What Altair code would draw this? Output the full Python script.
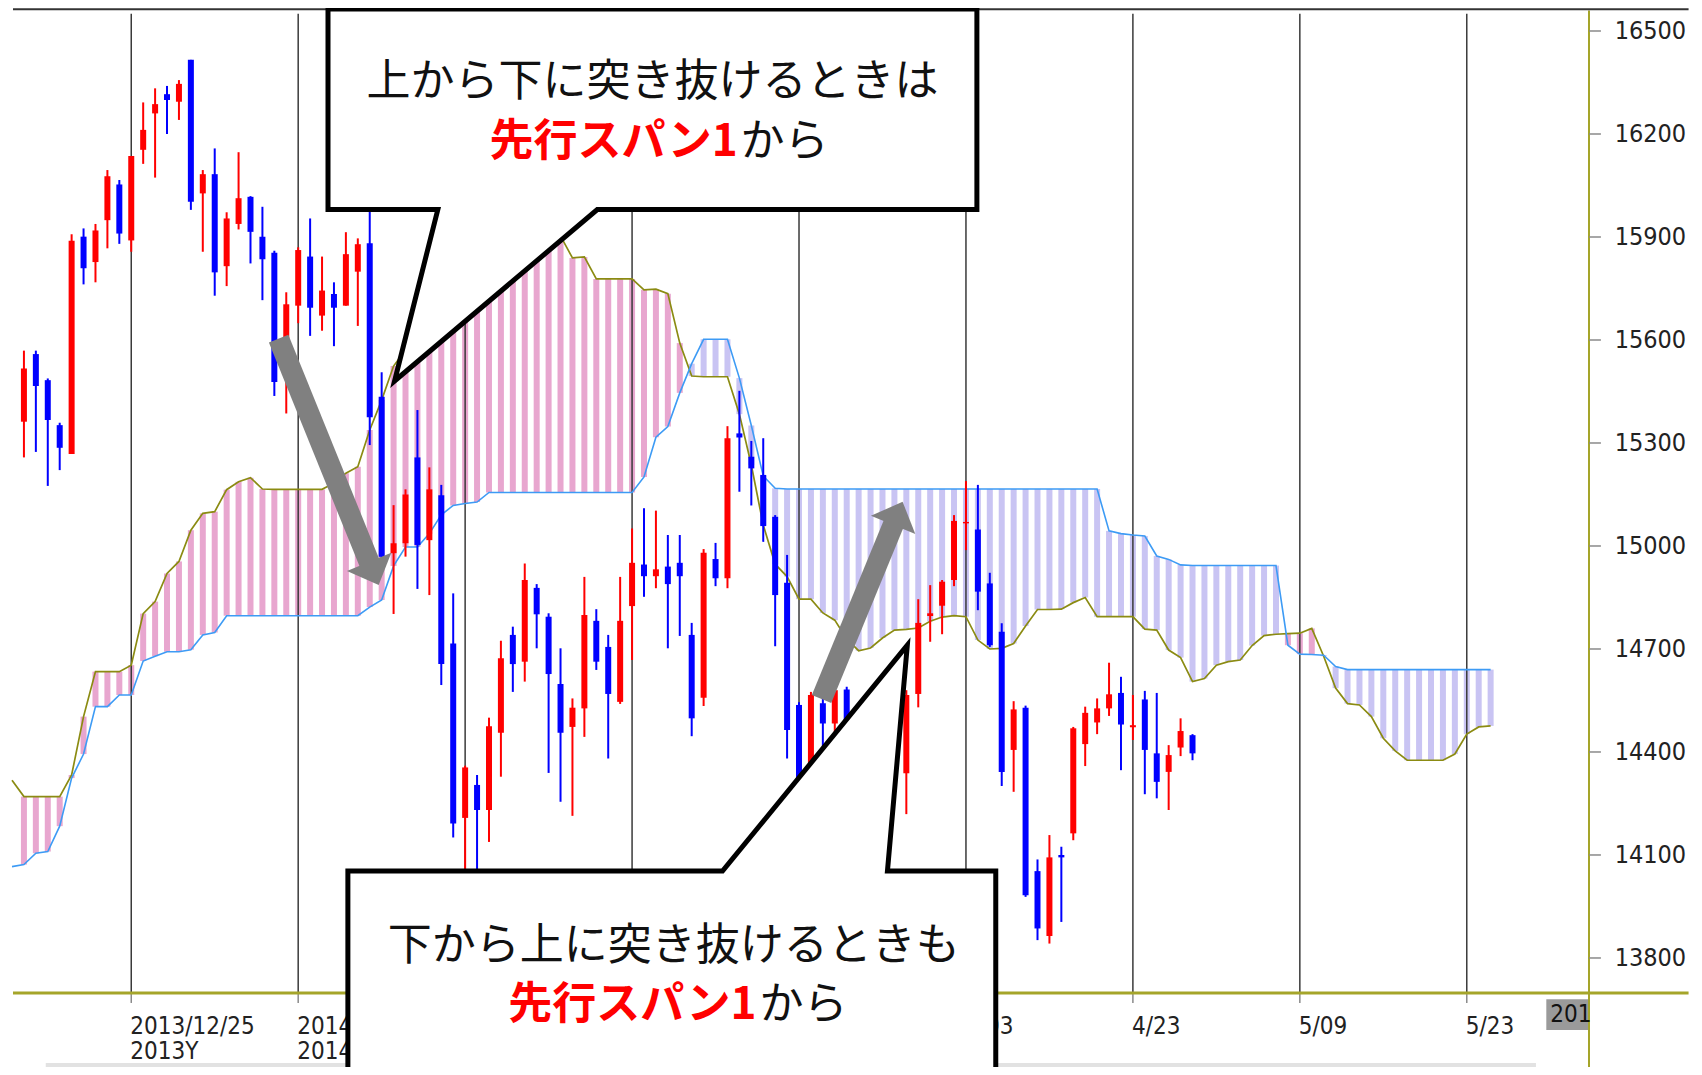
import altair as alt
import pandas as pd

# ---------------- data ----------------
opens = [15362, 15559, 15483, 15352, 15268, 15901, 15827, 15949, 16053, 15890,
         16154, 16260, 16316, 16294, 16416, 16027, 16083, 15815, 15938, 16017,
         15901, 15854, 15600, 15700, 15843, 15671, 15734, 15700, 15799, 15882,
         15435, 14979, 15008, 15258, 15017, 15148, 14716, 14208, 14304, 14231,
         14456, 14741, 14663, 14878, 14794, 14598, 14473, 14527, 14782, 14706,
         14546, 14825, 14946, 14912, 14940, 14951, 14741, 14558, 14962, 14906,
         15328, 15260, 15207, 15085, 14893, 14537, 14362, 14542, 14483, 14582,
         14490, 14420, 14360, 14410, 14338, 14569, 14796, 14826, 14901, 15066,
         15048, 14891, 14750, 14406, 14529, 14053, 13864, 14100, 14163, 14423,
         14486, 14527, 14572, 14472, 14553, 14396, 14342, 14413, 14449]
highs = [15569, 15569, 15488, 15359, 15908, 15925, 15938, 16095, 16066, 16136,
         16292, 16333, 16340, 16357, 16416, 16095, 16158, 15972, 16147, 16019,
         15988, 15860, 15739, 15870, 15954, 15843, 15768, 15914, 15896, 15974,
         15506, 15119, 15165, 15396, 15229, 15178, 14862, 14360, 14333, 14500,
         14724, 14765, 14949, 14889, 14804, 14702, 14556, 14910, 14816, 14741,
         14910, 15051, 15110, 15103, 15032, 15032, 14776, 14991, 15009, 15349,
         15452, 15306, 15314, 15090, 14974, 14545, 14575, 14560, 14600, 14590,
         14520, 14470, 14450, 14480, 14580, 14845, 14886, 14901, 15090, 15189,
         15178, 14922, 14775, 14548, 14535, 14087, 14158, 14124, 14473, 14532,
         14556, 14660, 14619, 14566, 14578, 14572, 14420, 14498, 14452]
lows = [15258, 15274, 15175, 15221, 15268, 15762, 15768, 15867, 15880, 15857,
        16113, 16073, 16200, 16241, 15979, 15857, 15729, 15757, 15922, 15823,
        15716, 15437, 15386, 15649, 15612, 15627, 15582, 15700, 15641, 15294,
        14960, 14802, 14969, 14875, 14857, 14595, 14151, 14030, 14050, 14138,
        14328, 14575, 14605, 14702, 14339, 14255, 14214, 14444, 14639, 14381,
        14540, 14668, 14852, 14877, 14702, 14738, 14446, 14534, 14883, 14877,
        15158, 15118, 15012, 14708, 14381, 14290, 14330, 14415, 14444, 14460,
        14380, 14330, 14300, 14320, 14219, 14530, 14721, 14743, 14883, 14988,
        14813, 14706, 14301, 14284, 13978, 13852, 13842, 13905, 14143, 14359,
        14452, 14505, 14347, 14435, 14277, 14265, 14231, 14388, 14376]
closes = [15517, 15466, 15367, 15286, 15889, 15809, 15919, 16077, 15910, 16136,
          16212, 16287, 16299, 16346, 16003, 16083, 15797, 15954, 16013, 15915,
          15835, 15478, 15704, 15862, 15694, 15744, 15694, 15850, 15879, 15375,
          14969, 15008, 15150, 15003, 15165, 14656, 14192, 14355, 14231, 14475,
          14673, 14656, 14901, 14801, 14627, 14456, 14529, 14799, 14663, 14569,
          14782, 14951, 14912, 14932, 14889, 14912, 14498, 14980, 14906, 15314,
          15316, 15226, 15058, 14857, 14464, 14300, 14566, 14483, 14580, 14493,
          14420, 14360, 14420, 14350, 14566, 14776, 14804, 14896, 15073, 15070,
          14867, 14711, 14342, 14524, 13983, 13886, 14093, 14093, 14469, 14514,
          14527, 14568, 14480, 14478, 14406, 14313, 14391, 14461, 14396]

# leading span 1 (olive) and leading span 2 (blue), bar index -1 .. 123
span_a = [14318, 14270, 14270, 14270, 14270, 14333, 14503, 14634, 14634, 14634,
          14653, 14803, 14838, 14920, 14955, 15046, 15095, 15100, 15164, 15187,
          15199, 15166, 15165, 15165, 15165, 15165, 15165, 15183, 15212, 15231,
          15338, 15425, 15524, 15571, 15600, 15629, 15664, 15687, 15716, 15746,
          15769, 15789, 15818, 15845, 15868, 15891, 15903, 15839, 15842, 15778,
          15778, 15778, 15778, 15746, 15748, 15735, 15591, 15495, 15493, 15493,
          15493, 15384, 15236, 15061, 14947, 14911, 14845, 14845, 14805, 14784,
          14729, 14695, 14703, 14732, 14755, 14757, 14761, 14781, 14793, 14797,
          14794, 14726, 14700, 14702, 14716, 14767, 14815, 14815, 14816, 14835,
          14850, 14794, 14794, 14794, 14794, 14758, 14755, 14697, 14675, 14605,
          14614, 14653, 14663, 14668, 14710, 14739, 14743, 14745, 14746, 14760,
          14679, 14586, 14541, 14537, 14503, 14440, 14403, 14376, 14376, 14376,
          14376, 14394, 14452, 14473, 14476]
span_b = [14066, 14072, 14105, 14110, 14184, 14324, 14394, 14532, 14532, 14566,
          14566, 14665, 14679, 14692, 14692, 14698, 14741, 14748, 14797, 14797,
          14797, 14797, 14797, 14797, 14797, 14797, 14797, 14797, 14797, 14797,
          14822, 14843, 14942, 14997, 14997, 15036, 15091, 15118, 15124, 15128,
          15156, 15156, 15156, 15156, 15156, 15156, 15156, 15156, 15156, 15156,
          15156, 15156, 15156, 15201, 15317, 15348, 15446, 15531, 15602, 15602,
          15602, 15489, 15351, 15204, 15168, 15166, 15166, 15166, 15166, 15166,
          15166, 15166, 15166, 15166, 15166, 15166, 15166, 15166, 15166, 15166,
          15166, 15166, 15166, 15166, 15166, 15166, 15166, 15166, 15166, 15166,
          15166, 15166, 15044, 15036, 15032, 15029, 14971, 14961, 14945, 14943,
          14943, 14943, 14943, 14943, 14943, 14943, 14943, 14711, 14685, 14684,
          14682, 14649, 14640, 14640, 14640, 14640, 14640, 14640, 14640, 14640,
          14640, 14640, 14640, 14640, 14640]

tick_values = [13800, 14100, 14400, 14700, 15000, 15300, 15600, 15900, 16200, 16500]
grid_idx = [9, 23, 37, 51, 65, 79, 93, 107, 121]
# labels at 1/31, 2/21, 3/13 lie fully under the lower callout and are not shown
date_line1 = ["2013/12/25", "2014/01/10", "", "", "", "4/03", "4/23", "5/09", "5/23"]
date_line2 = ["2013Y", "2014Y", "", "", "", "", "", "", ""]

# annotation geometry, in (bar index, price) units
callout1_i = [25.5, 79.917, 79.917, 48.083, 31.083, 34.71, 25.5, 25.5]
callout1_v = [16564, 16564, 15980, 15980, 15480.5, 15980, 15980, 16564]
callout2_i = [27.167, 58.583, 74.083, 72.417, 81.5, 81.5, 27.167, 27.167]
callout2_v = [14053, 14053, 14711, 14053, 14053, 13300, 13300, 14053]
arrow_i = [21.36, 29.08, 66.89, 73.0]
arrow_v = [15604, 14942, 14554, 15070]
head_i = [29.35, 73.29]
head_v = [14920, 15095]
head_angle = [157.5, 22.4]

text1 = ["上から下に突き抜けるときは", "先行スパン1", "から"]
text2 = ["下から上に突き抜けるときも", "先行スパン1", "から"]

# ---------------- styling ----------------
PINK = "#e8a6cf"
LAV = "#c9c4f3"
OLIVE = "#8b8b12"
SKY = "#3d9bf5"
AXIS_OLIVE = "#a5a52a"
UP = "#ff0000"
DOWN = "#0000ff"
GRAY = "#808080"
NARROW = "Liberation Sans Narrow, Arial Narrow, DejaVu Sans Condensed, sans-serif"
JP = "Noto Sans CJK JP, Noto Sans CJK SC, sans-serif"

XS = alt.Scale(domain=[-0.9167, 131.25], nice=False, zero=False)
YS = alt.Scale(domain=[13698, 16567], nice=False, zero=False)


def X(f):
    return alt.X(f, type="quantitative", scale=XS, axis=None)


def Y(f):
    return alt.Y(f, type="quantitative", scale=YS, axis=None)


# ---------------- frames ----------------
candles = pd.DataFrame({"i": list(range(len(opens))), "o": opens, "h": highs,
                        "l": lows, "c": closes})
candles["col"] = [UP if c >= o else DOWN for o, c in zip(opens, closes)]

cloud = pd.DataFrame({"i": list(range(-1, len(span_a) - 1)), "a": span_a, "b": span_b})
cloud["col"] = [PINK if a >= b else LAV for a, b in zip(span_a, span_b)]

grid = pd.DataFrame({"i": grid_idx, "top": [16550] * len(grid_idx),
                     "bot": [13698] * len(grid_idx), "tb": [13669] * len(grid_idx),
                     "l1": date_line1, "l2": date_line2,
                     "y1": [13600] * len(grid_idx), "y2": [13526] * len(grid_idx)})

ticks = pd.DataFrame({"v": tick_values, "i1": [131.25] * len(tick_values),
                      "i2": [132.25] * len(tick_values), "it": [133.4] * len(tick_values)})
ticks["t"] = [str(v) for v in tick_values]

stripes = alt.Chart(cloud).transform_filter("datum.i >= 0").mark_bar(
    width=6, clip=True, orient="vertical").encode(
    x=X("i"), y=Y("a"), y2="b", color=alt.Color("col:N", scale=None))

gridlines = alt.Chart(grid).mark_rule(color="#3a3a3a", strokeWidth=1.5).encode(
    x=X("i"), y=Y("top"), y2="bot")

xticks = alt.Chart(grid).mark_rule(color="#8a8a8a", strokeWidth=1.5).encode(
    x=X("i"), y=Y("bot"), y2="tb")

line_a = alt.Chart(cloud).mark_line(color=OLIVE, strokeWidth=1.7, clip=True).encode(
    x=X("i"), y=Y("a"))
line_b = alt.Chart(cloud).mark_line(color=SKY, strokeWidth=1.6, clip=True).encode(
    x=X("i"), y=Y("b"))

wicks = alt.Chart(candles).mark_rule(strokeWidth=2).encode(
    x=X("i"), y=Y("l"), y2="h", color=alt.Color("col:N", scale=None))
bodies = alt.Chart(candles).mark_bar(width=6, orient="vertical").encode(
    x=X("i"), y=Y("o"), y2="c", color=alt.Color("col:N", scale=None))

# frame lines
frame = pd.DataFrame({"i1": [-0.9167, -0.9167, 1.83], "i2": [139.6, 139.6, 126.8],
                      "v": [13698, 16563, 13488], "k": ["x", "top", "strip"]})
xaxis_line = alt.Chart(frame).transform_filter("datum.k == 'x'").mark_rule(
    color=AXIS_OLIVE, strokeWidth=3).encode(x=X("i1"), x2="i2", y=Y("v"))
top_line = alt.Chart(frame).transform_filter("datum.k == 'top'").mark_rule(
    color="#333333", strokeWidth=2).encode(x=X("i1"), x2="i2", y=Y("v"))
strip_line = alt.Chart(frame).transform_filter("datum.k == 'strip'").mark_rule(
    color="#e2e2e2", strokeWidth=4).encode(x=X("i1"), x2="i2", y=Y("v"))
raxis = pd.DataFrame({"i": [131.25], "v1": [16560], "v2": [13400]})
yaxis_line = alt.Chart(raxis).mark_rule(color=AXIS_OLIVE, strokeWidth=2).encode(
    x=X("i"), y=Y("v1"), y2="v2")

# right price axis: ticks and labels
ytick_marks = alt.Chart(ticks).mark_rule(color="#8a8a8a", strokeWidth=1.5).encode(
    x=X("i1"), x2="i2", y=Y("v"))
ytick_labels = alt.Chart(ticks).mark_text(align="left", baseline="middle", font=NARROW,
                                          fontSize=25, color="#222222").encode(
    x=X("it"), y=Y("v"), text="t:N")

# date labels
date1 = alt.Chart(grid).transform_filter("datum.l1 != ''").mark_text(
    align="left", baseline="middle", font=NARROW, fontSize=24, color="#222222", dx=-1).encode(
    x=X("i"), y=Y("y1"), text="l1:N")
date2 = alt.Chart(grid).transform_filter("datum.l2 != ''").mark_text(
    align="left", baseline="middle", font=NARROW, fontSize=24, color="#222222", dx=-1).encode(
    x=X("i"), y=Y("y2"), text="l2:N")

# gray "201" box
gbox = pd.DataFrame({"i1": [127.67], "i2": [131.17], "v1": [13680], "v2": [13590],
                     "ti": [128.0], "tv": [13634], "t": ["201"]})
gray_rect = alt.Chart(gbox).mark_rect(color="#9a9a9a").encode(
    x=X("i1"), x2="i2", y=Y("v1"), y2="v2")
gray_text = alt.Chart(gbox).mark_text(align="left", baseline="middle", font=NARROW,
                                      fontSize=24, color="#111111").encode(
    x=X("ti"), y=Y("tv"), text="t:N")

# arrows
arrows = pd.DataFrame({"g": ["a1", "a1", "a2", "a2"], "o": [0, 1, 0, 1],
                       "i": arrow_i, "v": arrow_v})
shafts = alt.Chart(arrows).mark_line(color=GRAY, strokeWidth=21, strokeCap="butt").encode(
    x=X("i"), y=Y("v"), detail="g:N", order=alt.Order("o:Q"))
heads_df = pd.DataFrame({"i": head_i, "v": head_v, "ang": head_angle})
heads = alt.Chart(heads_df).mark_point(shape="M0,-0.52L1,0.52L-1,0.52Z", filled=True,
                                       color=GRAY, opacity=1, size=2304, strokeWidth=0).encode(
    x=X("i"), y=Y("v"), angle=alt.Angle("ang:Q", scale=None))

# callouts
boxes = pd.DataFrame({"i1": [callout1_i[0], callout2_i[0]], "i2": [callout1_i[1], callout2_i[4]],
                      "v1": [callout1_v[0], callout2_v[0]], "v2": [callout1_v[2], callout2_v[5]]})
box_fill = alt.Chart(boxes).mark_rect(color="white").encode(
    x=X("i1"), x2="i2", y=Y("v1"), y2="v2")
tails = pd.DataFrame({
    "g": ["t1", "t1", "t1", "t2", "t2", "t2"],
    "i": [callout1_i[4], callout1_i[5], callout1_i[3], callout2_i[1], callout2_i[3], callout2_i[2]],
    "lo": [15480.5, 15990, 15990, 14040, 14040, 14711],
    "hi": [15480.5, 15587, 15980, 14053, 14640, 14711]})
tail_fill = alt.Chart(tails).mark_area(color="white", orient="vertical").encode(
    x=X("i"), y=Y("lo"), y2="hi", detail="g:N")
outline = pd.DataFrame({"g": ["c1"] * len(callout1_i) + ["c2"] * len(callout2_i),
                        "o": list(range(len(callout1_i))) + list(range(len(callout2_i))),
                        "i": callout1_i + callout2_i, "v": callout1_v + callout2_v})
outlines = alt.Chart(outline).mark_line(color="black", strokeWidth=5, strokeJoin="miter",
                                        strokeMiterLimit=10, strokeCap="square").encode(
    x=X("i"), y=Y("v"), detail="g:N", order=alt.Order("o:Q"))

t_center = pd.DataFrame({"i": [52.71, 54.5], "v": [16350, 13832], "t": [text1[0], text2[0]]})
t_red = pd.DataFrame({"i": [59.85, 61.43], "v": [16173, 13660], "t": [text1[1], text2[1]]})
t_tail = pd.DataFrame({"i": [60.1, 61.68], "v": [16173, 13660], "t": [text1[2], text2[2]]})
txt_c = alt.Chart(t_center).mark_text(align="center", baseline="middle", font=JP,
                                      fontSize=44, color="#111111").encode(
    x=X("i"), y=Y("v"), text="t:N")
txt_r = alt.Chart(t_red).mark_text(align="right", baseline="middle", font=JP, fontSize=44,
                                   fontWeight="bold", color="#ff0000").encode(
    x=X("i"), y=Y("v"), text="t:N")
txt_t = alt.Chart(t_tail).mark_text(align="left", baseline="middle", font=JP, fontSize=44,
                                    color="#111111").encode(
    x=X("i"), y=Y("v"), text="t:N")

chart = alt.layer(
    stripes, gridlines, xticks, line_a, line_b, wicks, bodies,
    strip_line, xaxis_line, yaxis_line, ytick_marks, ytick_labels, top_line,
    date1, date2, gray_rect, gray_text,
    shafts, heads, box_fill, tail_fill, outlines, txt_c, txt_r, txt_t
).properties(
    width=1586, height=985,
    padding={"left": 0, "top": 0, "right": 100, "bottom": 74},
    autosize=alt.AutoSizeParams(type="none"),
    background="white",
).configure_view(strokeWidth=0)

chart.save("out.html", embed_options={"renderer": "svg", "actions": False})
